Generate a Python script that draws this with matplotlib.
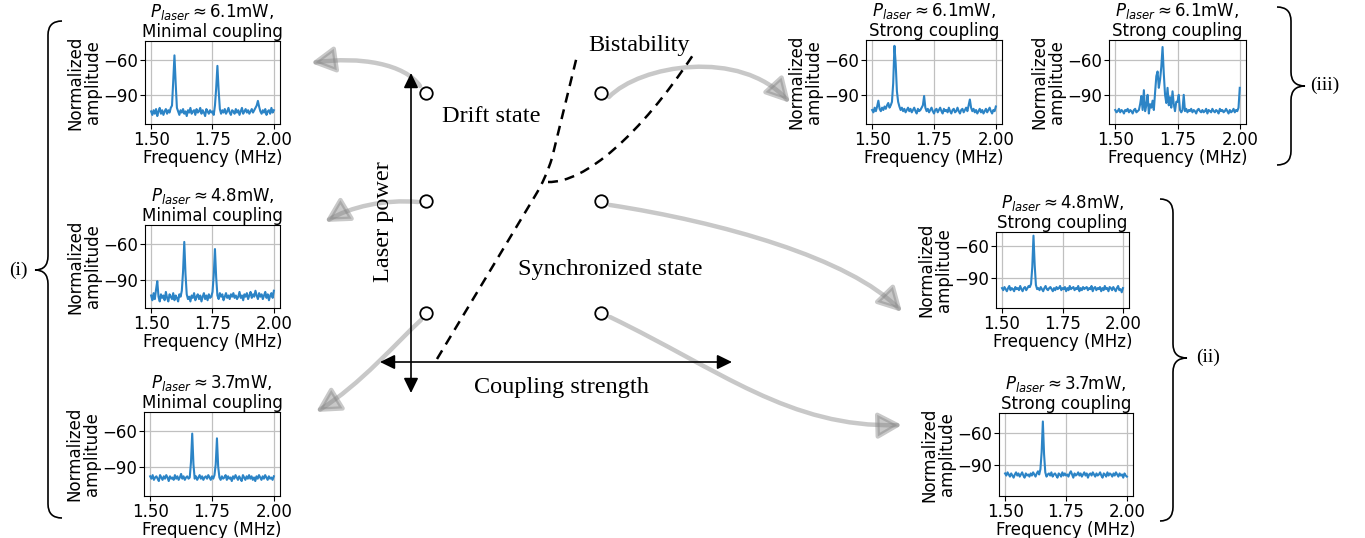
import numpy as np
import matplotlib
matplotlib.use("Agg")
import matplotlib.pyplot as plt
from matplotlib.path import Path
from matplotlib.patches import FancyArrowPatch, PathPatch

# ---------------- data ----------------
freq = np.linspace(1.50, 2.00, 101)

amp_61_min = [-104, -107, -103, -106, -102, -108, -104, -101, -106, -103,
              -107, -104, -102, -106, -103, -105, -101, -99, -78, -56,
              -80, -101, -104, -107, -103, -105, -102, -106, -104, -108,
              -103, -105, -101, -106, -104, -103, -107, -102, -105, -104,
              -101, -106, -103, -105, -108, -102, -104, -106, -103, -105,
              -104, -107, -99, -84, -65, -86, -102, -106, -103, -105,
              -102, -106, -104, -101, -105, -107, -103, -104, -106, -102,
              -105, -103, -107, -104, -101, -106, -104, -102, -105, -103,
              -106, -104, -102, -105, -103, -101, -99, -95, -100, -104,
              -106, -103, -105, -102, -107, -104, -103, -106, -101, -105,
              -103]
amp_48_min = [-103, -107, -101, -106, -98, -91, -104, -108, -102, -105,
              -103, -107, -100, -105, -108, -102, -104, -106, -101, -107,
              -103, -105, -108, -102, -104, -99, -83, -58, -85, -102,
              -106, -104, -108, -103, -105, -101, -107, -104, -102, -106,
              -103, -108, -104, -101, -106, -103, -107, -102, -105, -104,
              -100, -86, -64, -88, -103, -106, -101, -104, -102, -107,
              -104, -101, -105, -103, -106, -102, -104, -101, -105, -103,
              -106, -104, -100, -105, -103, -107, -102, -104, -101, -106,
              -103, -100, -105, -102, -104, -99, -103, -106, -101, -104,
              -102, -106, -103, -100, -105, -102, -107, -103, -101, -105,
              -99]
amp_37_min = [-98, -100, -97, -101, -99, -98, -100, -102, -97, -99,
              -101, -98, -100, -97, -99, -102, -98, -100, -99, -101,
              -97, -100, -98, -101, -99, -96, -100, -98, -101, -99,
              -98, -100, -99, -86, -62, -88, -100, -98, -101, -99,
              -97, -100, -98, -101, -99, -98, -100, -97, -99, -101,
              -98, -100, -97, -88, -66, -90, -99, -101, -98, -100,
              -99, -97, -101, -98, -100, -99, -102, -98, -100, -97,
              -99, -101, -98, -100, -102, -97, -99, -101, -98, -100,
              -97, -100, -98, -101, -99, -102, -98, -100, -97, -99,
              -101, -98, -100, -97, -99, -101, -98, -100, -99, -101,
              -98]
amp_61_strong_a = [-103, -105, -101, -104, -100, -95, -102, -104, -101, -103,
                   -100, -102, -99, -97, -101, -99, -96, -80, -48, -63,
                   -87, -96, -100, -103, -101, -104, -102, -105, -103, -101,
                   -104, -102, -105, -103, -101, -104, -106, -102, -104, -103,
                   -101, -99, -91, -101, -104, -102, -105, -103, -101, -104,
                   -106, -103, -102, -105, -103, -101, -104, -106, -102, -104,
                   -103, -105, -101, -104, -106, -103, -102, -105, -104, -101,
                   -104, -106, -103, -102, -105, -103, -101, -104, -99, -94,
                   -101, -104, -102, -105, -103, -106, -104, -102, -105, -103,
                   -106, -104, -102, -105, -103, -101, -104, -106, -103, -104,
                   -100]
amp_61_strong_b = [-103, -105, -104, -102, -105, -103, -104, -106, -103, -104,
                   -102, -105, -103, -104, -106, -103, -102, -105, -104, -103,
                   -98, -91, -103, -86, -104, -99, -90, -106, -98, -101,
                   -95, -103, -88, -74, -70, -84, -77, -66, -49, -72,
                   -90, -97, -84, -99, -92, -101, -87, -98, -104, -96,
                   -96, -90, -103, -105, -103, -90, -104, -102, -105, -103,
                   -104, -102, -105, -103, -104, -106, -103, -102, -104, -105,
                   -103, -105, -104, -102, -106, -103, -104, -105, -102, -104,
                   -105, -103, -104, -106, -102, -104, -103, -105, -104, -102,
                   -104, -106, -103, -105, -104, -102, -105, -103, -104, -101,
                   -84]
amp_48_strong = [-100, -102, -99, -101, -103, -100, -98, -102, -100, -101,
                 -103, -99, -101, -100, -102, -98, -101, -103, -100, -99,
                 -102, -100, -98, -99, -96, -80, -50, -78, -97, -101,
                 -100, -102, -99, -101, -103, -100, -98, -101, -102, -100,
                 -99, -101, -103, -100, -102, -99, -101, -100, -98, -102,
                 -100, -101, -99, -103, -100, -102, -98, -101, -100, -99,
                 -102, -100, -101, -98, -103, -100, -102, -99, -101, -100,
                 -99, -102, -100, -101, -98, -103, -100, -99, -102, -100,
                 -101, -99, -103, -100, -102, -98, -101, -100, -103, -99,
                 -100, -102, -99, -101, -103, -100, -98, -102, -101, -104,
                 -100]
amp_37_strong = [-98, -100, -97, -99, -101, -98, -100, -102, -99, -97,
                 -100, -98, -101, -99, -97, -100, -102, -98, -100, -99,
                 -101, -98, -100, -97, -99, -101, -98, -96, -99, -94,
                 -78, -49, -80, -97, -101, -99, -98, -100, -97, -101,
                 -99, -98, -100, -102, -98, -99, -101, -97, -100, -98,
                 -100, -99, -101, -98, -96, -99, -102, -98, -100, -99,
                 -97, -100, -98, -101, -99, -97, -100, -98, -102, -99,
                 -98, -100, -97, -99, -101, -98, -100, -99, -97, -100,
                 -102, -98, -99, -101, -97, -100, -98, -99, -101, -98,
                 -100, -97, -99, -101, -98, -100, -99, -102, -98, -100,
                 -101]

freq_ticks = [1.50, 1.75, 2.00]
freq_ticklabels = ["1.50", "1.75", "2.00"]
amp_ticks = [-60, -90]

titles = [r"$P_{laser}\approx$6.1mW," + "\nMinimal coupling",
          r"$P_{laser}\approx$4.8mW," + "\nMinimal coupling",
          r"$P_{laser}\approx$3.7mW," + "\nMinimal coupling",
          r"$P_{laser}\approx$6.1mW," + "\nStrong coupling",
          r"$P_{laser}\approx$6.1mW," + "\nStrong coupling",
          r"$P_{laser}\approx$4.8mW," + "\nStrong coupling",
          r"$P_{laser}\approx$3.7mW," + "\nStrong coupling"]
series = [amp_61_min, amp_48_min, amp_37_min,
          amp_61_strong_a, amp_61_strong_b, amp_48_strong, amp_37_strong]

# ---------------- layout (pixels) ----------------
W, H = 1365, 538
boxes = [(145, 41, 280, 124), (145, 225, 280, 308), (144, 412, 280, 496),
         (866, 40, 1002, 124), (1109, 40, 1246, 124),
         (996, 232, 1129, 308), (999, 413, 1133, 496)]
ylims = [(-114.8, -43.7), (-113.5, -43.8), (-114.6, -43.8),
         (-115, -43), (-115, -43), (-119, -46.5), (-119.3, -41)]

LINE_C = "#2c84c6"
fig = plt.figure(figsize=(W / 100, H / 100), dpi=100)

bg = fig.add_axes([0, 0, 1, 1], zorder=0)
bg.set_xlim(0, W)
bg.set_ylim(H, 0)
bg.axis("off")

for box, y, title, yl in zip(boxes, series, titles, ylims):
    x0, y0, x1, y1 = box
    ax = fig.add_axes([x0 / W, 1 - y1 / H, (x1 - x0) / W, (y1 - y0) / H], zorder=2)
    ax.plot(freq, y, color=LINE_C, lw=1.5)
    ax.set_ylim(*yl)
    ax.set_xticks(freq_ticks)
    ax.set_xticklabels(freq_ticklabels)
    ax.set_yticks(amp_ticks)
    ax.grid(True, color="#c0c0c0", lw=0.9)
    ax.set_axisbelow(True)
    ax.tick_params(labelsize=12, length=3.5, pad=1.2)
    ax.set_xlabel("Frequency (MHz)", fontsize=12, labelpad=0)
    ax.set_ylabel("Normalized\namplitude", fontsize=12, labelpad=1, linespacing=1.0)
    ax.set_title(title, fontsize=12, pad=3, linespacing=1.05)

SERIF = "Liberation Serif"

# gray curved arrows (cubic Bezier control points, pixel coords)
arrow_paths = [
    [(420, 86), (405, 64), (360, 56), (311, 63)],
    [(418, 202), (385, 199), (350, 207), (325, 222)],
    [(421, 320), (397, 342), (360, 385), (316, 412)],
    [(609, 97), (640, 65), (740, 48), (790, 103)],
    [(610, 205), (720, 222), (850, 258), (902, 312)],
    [(610, 317), (720, 370), (790, 428), (902, 425)],
]
for pts in arrow_paths:
    p = Path(pts, [Path.MOVETO, Path.CURVE4, Path.CURVE4, Path.CURVE4])
    arr = FancyArrowPatch(path=p, arrowstyle="-|>,head_length=0.55,head_width=0.3",
                          mutation_scale=26, color="0.52", alpha=0.45, lw=3.2,
                          zorder=1)
    bg.add_patch(arr)

# phase-boundary dashed curves
bnd1 = Path([(437, 359), (535, 196), (546, 178), (552, 158), (577, 56)],
            [Path.MOVETO, Path.LINETO, Path.CURVE3, Path.CURVE3, Path.LINETO])
bnd2 = Path([(548, 182), (585, 183), (640, 135), (693, 55)],
            [Path.MOVETO, Path.CURVE4, Path.CURVE4, Path.CURVE4])
for p in (bnd1, bnd2):
    bg.add_patch(PathPatch(p, fill=False, color="black", lw=1.8,
                           linestyle=(0, (4, 2.8)), zorder=3))

# axes arrows
bg.add_patch(FancyArrowPatch((411, 393), (411, 73),
                             arrowstyle="<|-|>,head_length=0.45,head_width=0.22",
                             mutation_scale=20, color="black", lw=1.2, zorder=4,
                             shrinkA=0, shrinkB=0))
bg.add_patch(FancyArrowPatch((380, 362), (732, 362),
                             arrowstyle="<|-|>,head_length=0.45,head_width=0.22",
                             mutation_scale=20, color="black", lw=1.2, zorder=4,
                             shrinkA=0, shrinkB=0))

# state circles
circ_x = [426, 426, 426, 601, 601, 601]
circ_y = [93, 201, 313, 93, 201, 313]
bg.plot(circ_x, circ_y, "o", ms=9, mfc="white", mec="black", mew=1.3, zorder=5)

# diagram text
bg.text(639, 46, "Bistability", fontsize=17.5, family=SERIF, ha="center", va="center", zorder=6)
bg.text(491, 116, "Drift state", fontsize=17.5, family=SERIF, ha="center", va="center", zorder=6)
bg.text(610, 269, "Synchronized state", fontsize=17.5, family=SERIF, ha="center", va="center", zorder=6)
bg.text(561, 387, "Coupling strength", fontsize=17.5, family=SERIF, ha="center", va="center", zorder=6)
bg.text(383, 222, "Laser power", fontsize=17.5, family=SERIF, ha="center", va="center",
        rotation=90, zorder=6)


def brace(x_end, x_spine, x_tip, y_top, y_mid, y_bot, r=14):
    verts = [(x_end, y_top), (x_spine, y_top), (x_spine, y_top + r),
             (x_spine, y_mid - r),
             (x_spine, y_mid), (x_tip, y_mid),
             (x_spine, y_mid), (x_spine, y_mid + r),
             (x_spine, y_bot - r),
             (x_spine, y_bot), (x_end, y_bot)]
    codes = [Path.MOVETO, Path.CURVE3, Path.CURVE3, Path.LINETO,
             Path.CURVE3, Path.CURVE3, Path.CURVE3, Path.CURVE3,
             Path.LINETO, Path.CURVE3, Path.CURVE3]
    bg.add_patch(PathPatch(Path(verts, codes), fill=False, color="black", lw=1.2))


brace(62, 48, 35, 21, 270, 518)
brace(1277, 1291, 1305, 7, 86, 165)
brace(1160, 1173, 1187, 199, 358, 521)
bg.text(18, 270, "(i)", fontsize=14, family=SERIF, ha="center", va="center")
bg.text(1310, 85, "(iii)", fontsize=14, family=SERIF, ha="left", va="center")
bg.text(1196, 357, "(ii)", fontsize=14, family=SERIF, ha="left", va="center")

fig.savefig("out.png", dpi=100)
